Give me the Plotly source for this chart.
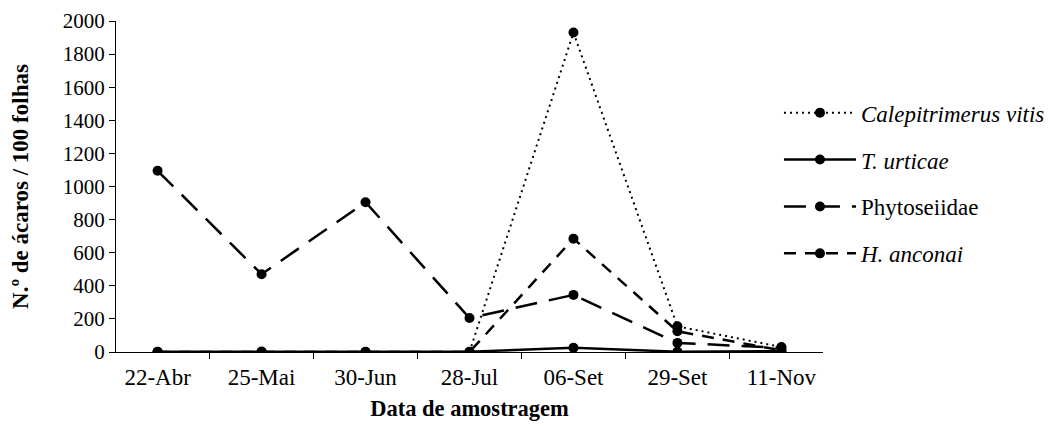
import plotly.graph_objects as go

dates = ["22-Abr", "25-Mai", "30-Jun", "28-Jul", "06-Set", "29-Set", "11-Nov"]
calepitrimerus = [0, 0, 0, 0, 1930, 155, 30]
t_urticae = [2, 3, 2, 2, 25, 2, 5]
phytoseiidae = [1095, 470, 905, 205, 345, 55, 25]
h_anconai = [0, 0, 0, 0, 685, 125, 10]

series = [
    ("<i>Calepitrimerus vitis</i>", calepitrimerus, "2px,4px", 2),
    ("<i>T. urticae</i>", t_urticae, "solid", 2.5),
    ("Phytoseiidae", phytoseiidae, "22px,12px", 2.5),
    ("<i>H. anconai</i>", h_anconai, "12px,9px", 2.5),
]

fig = go.Figure()
for i, (name, vals, dash, w) in enumerate(series):
    fig.add_trace(go.Scatter(
        x=dates, y=vals, name=name, mode="lines+markers",
        line=dict(color="black", width=w, dash=dash),
        marker=dict(color="black", size=10, symbol="circle"),
        legendgroup=f"g{i}",
    ))

font = "Times New Roman"
fig.update_layout(
    width=1055, height=426,
    margin=dict(l=108, r=240, t=13, b=82),
    paper_bgcolor="white", plot_bgcolor="white",
    font=dict(family=font, size=21, color="black"),
    showlegend=True,
    legend=dict(x=0.9377, xanchor="left", y=0.51, yanchor="middle",
                font=dict(family=font, size=23, color="black"),
                tracegroupgap=14, traceorder="grouped", itemwidth=72,
                bgcolor="rgba(0,0,0,0)"),
    xaxis=dict(
        type="category", showline=True, linecolor="black", linewidth=1,
        ticks="outside", ticklen=6, tickcolor="black", tickson="boundaries",
        showgrid=False, zeroline=False, automargin=False,
        ticklabelstandoff=4,
        title=dict(text="<b>Data de amostragem</b>", standoff=11,
                   font=dict(family=font, size=22.5)),
        tickfont=dict(family=font, size=23),
    ),
    yaxis=dict(
        range=[0, 2000], dtick=200, showline=True, linecolor="black", linewidth=1,
        ticks="outside", ticklen=6, tickcolor="black",
        showgrid=False, zeroline=False, automargin=False,
        title=dict(text="<b>N.º de ácaros / 100 folhas</b>", standoff=30,
                   font=dict(family=font, size=23)),
        tickfont=dict(family=font, size=21),
    ),
)

fig.write_html("out.html")
